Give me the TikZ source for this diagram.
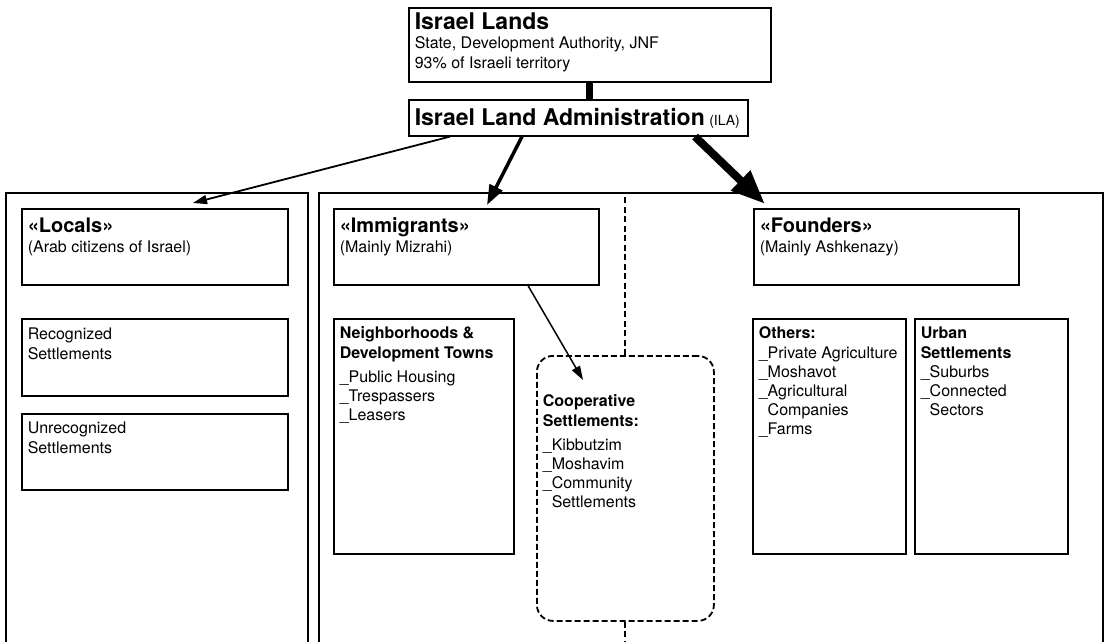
\documentclass[tikz,border=0pt]{standalone}
\usepackage{fontspec}
\setmainfont{TeX Gyre Heros}
\usetikzlibrary{arrows.meta}

\newcommand{\boxtitle}[1]{{\fontsize{20}{24}\selectfont\bfseries #1}}
\newcommand{\toptitle}[1]{{\fontsize{23}{27}\selectfont\bfseries #1}}
\newcommand{\boxbody}[4]{\parbox[t][#2][t]{#1}{\raggedright\fontsize{16}{19.2}\selectfont\rule{0pt}{#3}#4}}
\newcommand{\indentline}{\phantom{\_}}

\begin{document}
\begin{tikzpicture}[x=1pt,y=-1pt,
  panel/.style={draw, line width=1.6pt, anchor=north west, inner xsep=6pt, inner ysep=0pt},
  coopbox/.style={panel, line width=1.8pt, dash pattern=on 6pt off 3pt, rounded corners=16pt},
  frame/.style={line width=1.4pt},
  divider/.style={line width=2pt, dash pattern=on 6pt off 3.5pt},
  thinarrow/.style={line width=1.8pt, -{Triangle[length=14pt,width=9pt]}},
  midarrow/.style={line width=3.5pt, -{Triangle[length=20pt,width=14pt]}},
  bigarrow/.style={line width=8pt, -{Triangle[length=34pt,width=26pt]}}]
\useasboundingbox (0,0) rectangle (1109,642);
\fill[white] (0,0) rectangle (1109,642);
% Drawing frames
\draw[frame] (6,642) -- (6,193) -- (308,193) -- (308,642);
\draw[frame] (319,642) -- (319,193) -- (1103,193) -- (1103,642);
% Done with frames; drawing boxes
% Box 1: Israel Lands
\node[panel] (lands) at (408,7) {\boxbody{350pt}{74pt}{22pt}{\toptitle{Israel Lands}\\ State, Development Authority, JNF\\ 93\% of Israeli territory}};
% Box 2: ILA
\node[panel] (ila) at (408,99) {\boxbody{327pt}{36pt}{26pt}{\toptitle{Israel Land Administration} {\fontsize{14}{16}\selectfont(ILA)}}};
\draw[line width=7pt] (lands.south) -- (lands.south |- ila.north);
% Box 3: Locals
\node[panel] (locals) at (21,208) {\boxbody{254pt}{76pt}{24pt}{\boxtitle{«Locals»}\\ (Arab citizens of Israel)}};
\node[panel] (recognized) at (21,318) {\boxbody{254pt}{77pt}{21pt}{Recognized\\ Settlements}};
\node[panel] (unrecognized) at (21,413) {\boxbody{254pt}{76pt}{20pt}{Unrecognized\\ Settlements}};
% Box 4: Immigrants
\node[panel] (immigrants) at (333,208) {\boxbody{253pt}{76pt}{24pt}{\boxtitle{«Immigrants»}\\ (Mainly Mizrahi)}};
\node[panel] (neighborhoods) at (333,318) {\boxbody{168pt}{235pt}{20pt}{\textbf{Neighborhoods \&}\\ \textbf{Development Towns}\\[5pt] \_Public Housing\\ \_Trespassers\\ \_Leasers}};
\node[coopbox] (coop) at (536,355) {\boxbody{165pt}{265pt}{51pt}{\textbf{Cooperative}\\ \textbf{Settlements:}\\[5pt] \_Kibbutzim\\ \_Moshavim\\ \_Community\\ \indentline Settlements}};
% Box 5: Founders
\node[panel] (founders) at (753,208) {\boxbody{253pt}{76pt}{24pt}{\boxtitle{«Founders»}\\ (Mainly Ashkenazy)}};
\node[panel] (others) at (752,318) {\boxbody{141pt}{235pt}{20pt}{\textbf{Others:}\\ \_Private Agriculture\\ \_Moshavot\\ \_Agricultural\\ \indentline Companies\\ \_Farms}};
\node[panel] (urban) at (914,318) {\boxbody{141pt}{235pt}{20pt}{\textbf{Urban}\\ \textbf{Settlements}\\ \_Suburbs\\ \_Connected\\ \indentline Sectors}};
% Done with boxes; drawing divider and arrows
\draw[divider] (coop.north) -- (coop.north |- 0,193);
\draw[divider] (coop.south) -- (coop.south |- 0,642);
\draw[thinarrow] ([xshift=42pt]ila.south west) -- ([xshift=172pt,yshift=5pt]locals.north west);
\draw[midarrow] ([xshift=114pt]ila.south west) -- ([xshift=154pt,yshift=3pt]immigrants.north west);
\draw[bigarrow] ([xshift=287pt]ila.south west) -- ([xshift=12pt,yshift=4pt]founders.north west);
\draw[thinarrow, line width=1.5pt] ([xshift=195pt]immigrants.south west) -- ([xshift=47pt,yshift=-25pt]coop.north west);
% Done with arrows
\end{tikzpicture}
\end{document}
